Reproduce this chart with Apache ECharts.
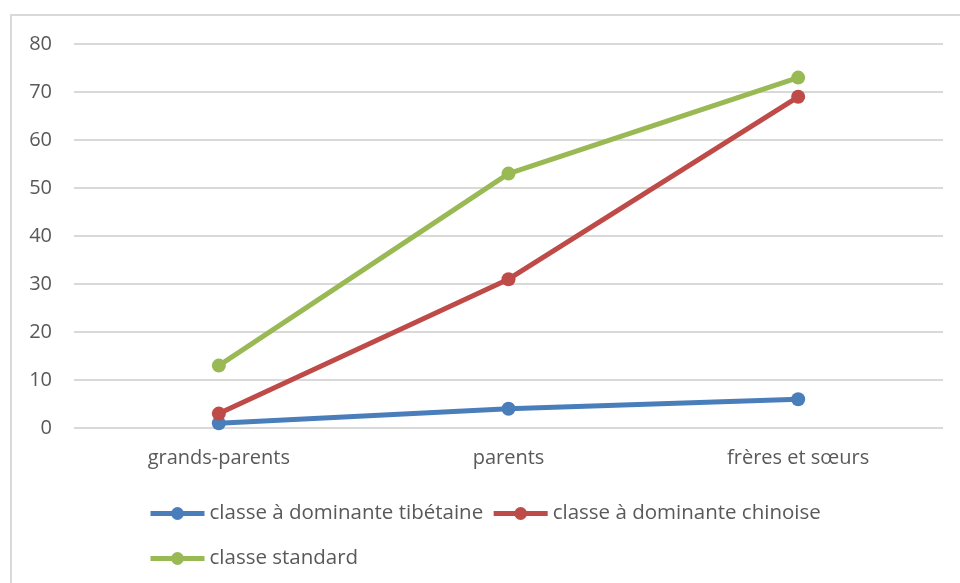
<!DOCTYPE html>
<html>
<head>
<meta charset="utf-8">
<script src="https://cdn.jsdelivr.net/npm/echarts@6/dist/echarts.min.js"></script>
<style>
  html, body { margin: 0; padding: 0; background: #fff; }
  #chart { width: 960px; height: 583px; }
</style>
</head>
<body>
<div id="chart"></div>
<script>
// data
const categories = ['grands-parents', 'parents', 'frères et sœurs'];
const tibetaine = [1, 4, 6];
const chinoise = [3, 31, 69];
const standard = [13, 53, 73];
const seriesNames = ['classe à dominante tibétaine', 'classe à dominante chinoise', 'classe standard'];

const chart = echarts.init(document.getElementById('chart'));
const font = '"Open Sans", "DejaVu Sans", sans-serif';

function lineSeries(name, data, color) {
  return {
    name: name,
    type: 'line',
    data: data,
    symbol: 'circle',
    symbolSize: 14,
    color: color,
    lineStyle: { width: 5, color: color },
    itemStyle: { color: color },
    emphasis: { disabled: true }
  };
}

const legendCommon = {
  padding: 0,
  itemWidth: 54,
  itemHeight: 16,
  itemGap: 8,
  lineStyle: { width: 5 },
  textStyle: { fontFamily: font, fontSize: 20.5, color: '#595959' }
};

chart.setOption({
  animation: false,
  textStyle: { fontFamily: font },
  graphic: [{
    type: 'rect',
    shape: { x: 11, y: 15, width: 960, height: 600 },
    style: { fill: 'none', stroke: '#d9d9d9', lineWidth: 2 },
    silent: true
  }],
  grid: { left: 74, right: 17, top: 44, bottom: 155 },
  legend: [
    Object.assign({}, legendCommon, {
      data: [seriesNames[0], seriesNames[1]],
      left: 148,
      top: 503
    }),
    Object.assign({}, legendCommon, {
      data: [seriesNames[2]],
      left: 148,
      top: 548
    })
  ],
  xAxis: {
    type: 'category',
    data: categories,
    axisLine: { show: false },
    axisTick: { show: false },
    axisLabel: { fontSize: 20, color: '#595959', margin: 20, fontFamily: font }
  },
  yAxis: {
    type: 'value',
    min: 0,
    max: 80,
    interval: 10,
    axisLine: { show: false },
    axisTick: { show: false },
    axisLabel: { fontSize: 20, color: '#595959', margin: 22, fontFamily: font },
    splitLine: { lineStyle: { color: '#d9d9d9', width: 2 } }
  },
  series: [
    lineSeries(seriesNames[0], tibetaine, '#4a7ebb'),
    lineSeries(seriesNames[1], chinoise, '#be4b48'),
    lineSeries(seriesNames[2], standard, '#98b954')
  ]
});
</script>
</body>
</html>
